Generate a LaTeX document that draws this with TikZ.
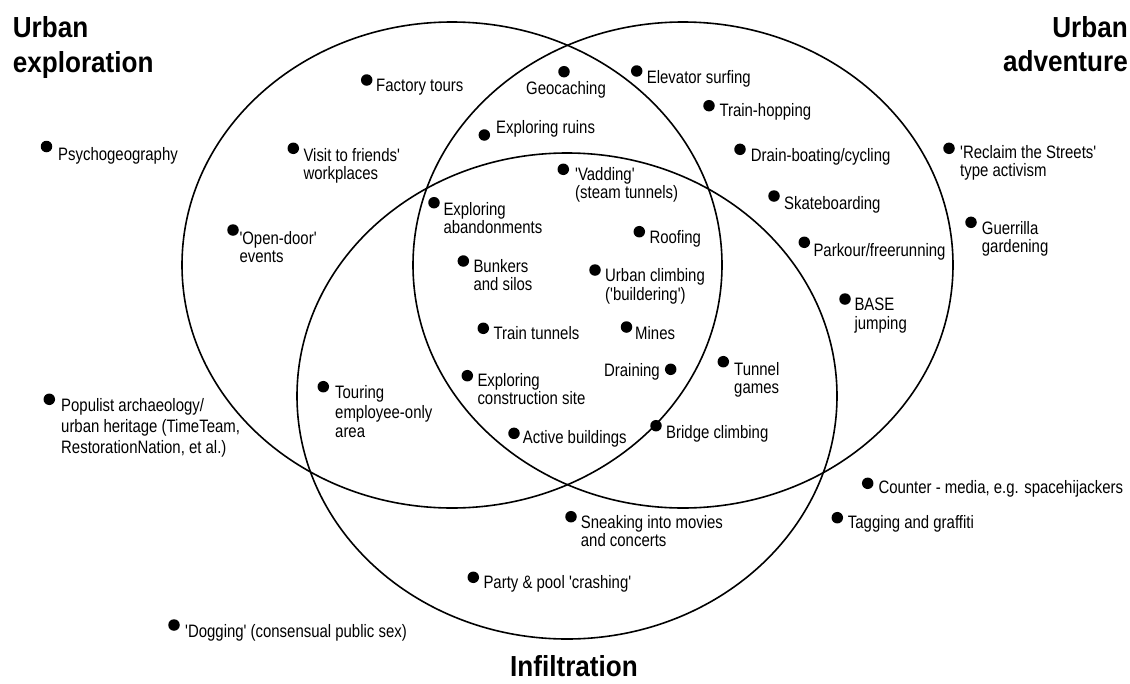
\documentclass[tikz,border=0pt]{standalone}
\usepackage{fontspec}
\setmainfont{Liberation Sans}[FakeStretch=0.83,Ligatures=TeXOff]
\newfontfamily\titlefont{Liberation Sans}[FakeStretch=0.9,Ligatures=TeXOff]
\newcommand{\txtlines}[1]{\begin{tabular}[t]{@{}l@{}}#1\end{tabular}}
\newcommand{\txtlinesr}[1]{\begin{tabular}[t]{@{}r@{}}#1\end{tabular}}
\begin{document}
\begin{tikzpicture}[x=1pt,y=-1pt,
  dot/.style={circle,fill=black,inner sep=0pt,minimum size=11.5pt},
  lbl/.style={inner sep=0pt,anchor=base west,font=\fontsize{18}{18.5}\selectfont},
  ttl/.style={inner sep=0pt,font=\titlefont\bfseries\fontsize{29}{34.5}\selectfont},
  set/.style={draw=black,line width=1.6pt}]
\useasboundingbox[fill=white] (0,0) rectangle (1130,683);
% sets
\draw[set] (452,265) ellipse [x radius=270pt,y radius=243pt];
\draw[set] (683,265) ellipse [x radius=270pt,y radius=243pt];
\draw[set] (567,396) ellipse [x radius=270pt,y radius=243pt];
% titles
\node[ttl,anchor=base west] (tUE) at (12.7,37.5) {\txtlines{Urban\\exploration}};
\node[ttl,anchor=base east] (tUA) at (1128,37) {\txtlinesr{Urban\\adventure}};
\node[ttl,anchor=base] (tIN) at (574,676.5) {Infiltration};
% items
\node[dot] (d1) at (46.5,146.5) {};  \node[lbl] (l1) at (58,160.5) {Psychogeography};
\node[dot] (d2) at (366.7,80) {};    \node[lbl] (l2) at (376,91) {Factory tours};
\node[dot] (d3) at (293.3,148.3) {}; \node[lbl] (l3) at (303.3,161) {\txtlines{Visit to friends'\\workplaces}};
\node[dot] (d4) at (233,230) {};     \node[lbl] (l4) at (239.3,244.3) {\txtlines{'Open-door'\\events}};
\node[dot] (d5) at (564,71.7) {};    \node[lbl,anchor=base] (l5) at (566,94.3) {Geocaching};
\node[dot] (d6) at (636.7,71) {};    \node[lbl] (l6) at (646.7,83.3) {Elevator surfing};
\node[dot] (d7) at (709,105.7) {};   \node[lbl] (l7) at (719.3,116.7) {Train-hopping};
\node[dot] (d8) at (740,149.3) {};   \node[lbl] (l8) at (750.7,161.7) {Drain-boating/cycling};
\node[dot] (d9) at (484.3,135) {};   \node[lbl] (l9) at (496,133.3) {Exploring ruins};
\node[dot] (d10) at (563.3,169.3) {}; \node[lbl] (l10) at (575,180) {\txtlines{'Vadding'\\(steam tunnels)}};
\node[dot] (d11) at (434,202.7) {};  \node[lbl] (l11) at (443.3,215) {\txtlines{Exploring\\abandonments}};
\node[dot] (d12) at (639.3,231.7) {}; \node[lbl] (l12) at (649.3,243.3) {Roofing};
\node[dot] (d13) at (463.3,261) {};  \node[lbl] (l13) at (473.3,272.3) {\txtlines{Bunkers\\and silos}};
\node[dot] (d14) at (595,270) {};    \node[lbl] (l14) at (605,281.7) {\txtlines{Urban climbing\\('buildering')}};
\node[dot] (d15) at (483.3,328.3) {}; \node[lbl] (l15) at (493.3,339) {Train tunnels};
\node[dot] (d16) at (626.5,327) {};  \node[lbl] (l16) at (635,339) {Mines};
\node[dot] (d17) at (670.7,369.3) {}; \node[lbl,anchor=base east] (l17) at (660,376.7) {Draining};
\node[dot] (d18) at (467.3,375.7) {}; \node[lbl] (l18) at (477.3,386) {\txtlines{Exploring\\construction site}};
\node[dot] (d19) at (514,433.3) {};  \node[lbl] (l19) at (522.7,443.3) {Active buildings};
\node[dot] (d20) at (656,425.7) {};  \node[lbl] (l20) at (666,438.3) {Bridge climbing};
\node[dot] (d21) at (723.3,361.7) {}; \node[lbl] (l21) at (734,375) {\txtlines{Tunnel\\games}};
\node[dot] (d22) at (323.3,386.7) {}; \node[lbl,font=\fontsize{18}{19.7}\selectfont] (l22) at (335,398.3) {\txtlines{Touring\\employee-only\\area}};
\node[dot] (d23) at (949,148.3) {};  \node[lbl] (l23) at (960,158.3) {\txtlines{'Reclaim the Streets'\\type activism}};
\node[dot] (d24) at (774,196) {};    \node[lbl] (l24) at (784,209.3) {Skateboarding};
\node[dot] (d25) at (971,222.3) {};  \node[lbl] (l25) at (981.7,234.3) {\txtlines{Guerrilla\\gardening}};
\node[dot] (d26) at (804.3,242.3) {}; \node[lbl] (l26) at (813.3,256) {Parkour/freerunning};
\node[dot] (d27) at (845,299) {};    \node[lbl] (l27) at (854.3,310.7) {\txtlines{BASE\\jumping}};
\node[dot] (d28) at (867.7,483.3) {}; \node[lbl] (l28) at (878.3,493.3) {Counter - media, e.g. spacehijackers};
\node[dot] (d29) at (837.3,517.7) {}; \node[lbl] (l29) at (847.7,528.3) {Tagging and graffiti};
\node[dot] (d30) at (49.3,399.3) {};  \node[lbl,font=\fontsize{18}{20.7}\selectfont] (l30) at (61,411.7) {\txtlines{Populist archaeology/\\urban heritage (TimeTeam,\\RestorationNation, et al.)}};
\node[dot] (d31) at (174,625) {};    \node[lbl] (l31) at (185,637.3) {'Dogging' (consensual public sex)};
\node[dot] (d32) at (571,516.7) {};  \node[lbl] (l32) at (580.7,528.3) {\txtlines{Sneaking into movies\\and concerts}};
\node[dot] (d33) at (473.3,577.3) {}; \node[lbl] (l33) at (483.3,588.3) {Party \& pool 'crashing'};
\end{tikzpicture}
\end{document}
